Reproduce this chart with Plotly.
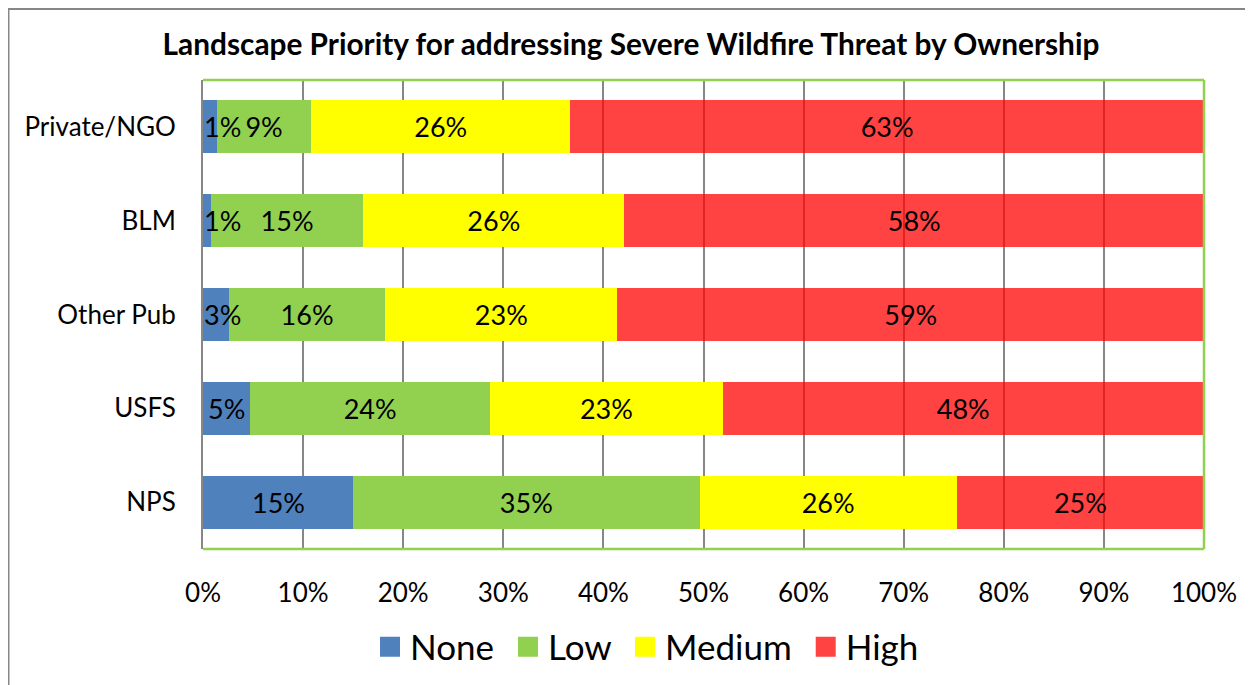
import plotly.graph_objects as go

categories = ["NPS", "USFS", "Other Pub", "BLM", "Private/NGO"]
none_vals = [15.0, 4.7, 2.6, 0.8, 1.4]
low_vals = [34.6, 24.0, 15.6, 15.2, 9.4]
medium_vals = [25.7, 23.2, 23.2, 26.1, 25.9]
high_vals = [24.7, 48.1, 58.6, 57.9, 63.3]
series_names = ["None", "Low", "Medium", "High"]
colors = ["#4F81BD", "#92D050", "#FFFF00", "rgba(255,0,0,0.74)"]
legend_colors = ["#4F81BD", "#92D050", "#FFFF00", "#FF4343"]
x_ticks = [0, 10, 20, 30, 40, 50, 60, 70, 80, 90, 100]
x_tick_labels = ["0%", "10%", "20%", "30%", "40%", "50%", "60%", "70%", "80%", "90%", "100%"]

FONT = "Lato"
LABEL_SIZE = 27
OFF = 8  # page body margin offset
W, H = 1253 - OFF, 685 - OFF
L, T = 203 - OFF, 80 - OFF
pw = (1204 - OFF) - L
ph = (549 - OFF) - T
R = W - L - pw
B = H - T - ph


def px_x(ref_x):
    return ((ref_x - OFF) - L) / pw


def px_y(ref_y):
    return (T + ph - (ref_y - OFF)) / ph


fig = go.Figure()
for i, (name, vals, col) in enumerate(zip(series_names, [none_vals, low_vals, medium_vals, high_vals], colors)):
    fig.add_trace(go.Bar(
        y=categories, x=vals, name=name, orientation="h",
        marker=dict(color=col, line=dict(width=0)),
        texttemplate="%{x:.0f}%", textposition="none" if i == 0 else "inside",
        insidetextanchor="middle", constraintext="none", textangle=0, cliponaxis=False,
        textfont=dict(family=FONT, size=LABEL_SIZE, color="black"),
        hoverinfo="skip", showlegend=False,
    ))

# "None" labels: centred in the segment, kept inside the plot when the segment is narrow
label_half_width = 37 / 2 / pw * 100  # label half width in axis units
annotations = []
for cat, v in zip(categories, none_vals):
    fits = v / 2 >= label_half_width
    annotations.append(dict(
        x=v / 2 if fits else 0, y=cat, xref="x", yref="y",
        xanchor="center" if fits else "left", yanchor="middle",
        text=f"{v:.0f}%", showarrow=False, borderpad=0,
        font=dict(family=FONT, size=LABEL_SIZE, color="black"),
    ))

# legend entries with larger square symbols
for k, (name, col) in enumerate(zip(series_names, legend_colors)):
    pad = "\u00a0" if k < len(series_names) - 1 else ""
    fig.add_trace(go.Scatter(
        x=[None], y=[None], mode="markers", name=name + pad,
        marker=dict(symbol="square", size=16, color=col, line=dict(color=col, width=4)),
        showlegend=True, hoverinfo="skip",
    ))

fig.update_layout(
    width=W, height=H,
    barmode="stack", bargap=0.435,
    margin=dict(l=L, r=R, t=T, b=B, autoexpand=False),
    paper_bgcolor="white", plot_bgcolor="white",
    uniformtext=dict(minsize=LABEL_SIZE, mode="show"),
    annotations=annotations,
    title=dict(text="<b>Landscape Priority for addressing Severe Wildfire Threat by Ownership</b>",
               x=(631 - OFF) / W, xanchor="center", y=1 - (45 - OFF) / H, yanchor="middle",
               font=dict(family=FONT, size=29.8, color="black")),
    xaxis=dict(range=[0, 100], tickvals=x_ticks, ticktext=x_tick_labels, showgrid=True,
               gridcolor="#878787", gridwidth=1.5, zeroline=False, showline=False,
               ticks="", ticklabelstandoff=26, automargin=False,
               tickfont=dict(family=FONT, size=26, color="black"), fixedrange=True),
    yaxis=dict(showgrid=False, showline=True, linecolor="#878787", linewidth=2,
               ticks="", ticklabelstandoff=20, automargin=False,
               categoryorder="array", categoryarray=categories,
               tickfont=dict(family=FONT, size=26, color="black")),
    legend=dict(orientation="h", x=px_x(647), xanchor="center",
                y=px_y(647), yanchor="middle",
                font=dict(family=FONT, size=35, color="black"),
                traceorder="normal", itemwidth=30, itemsizing="trace"),
    showlegend=True,
)

shapes = [
    dict(type="line", xref="paper", yref="paper", x0=0, x1=1, y0=1, y1=1,
         line=dict(color="#92D050", width=2.5)),
    dict(type="line", xref="paper", yref="paper", x0=1, x1=1, y0=0, y1=1,
         line=dict(color="#92D050", width=2.5)),
    dict(type="line", xref="paper", yref="paper", x0=0, x1=1, y0=0, y1=0,
         line=dict(color="#92D050", width=2.5)),
    dict(type="line", xref="paper", yref="paper",
         x0=px_x(OFF), x1=px_x(1253 + OFF), y0=px_y(OFF + 1), y1=px_y(OFF + 1),
         line=dict(color="#878787", width=2)),
    dict(type="line", xref="paper", yref="paper",
         x0=px_x(OFF + 0.5), x1=px_x(OFF + 0.5), y0=px_y(OFF), y1=px_y(700),
         line=dict(color="#878787", width=2)),
]
fig.update_layout(shapes=shapes)

fig.write_html("out.html")
